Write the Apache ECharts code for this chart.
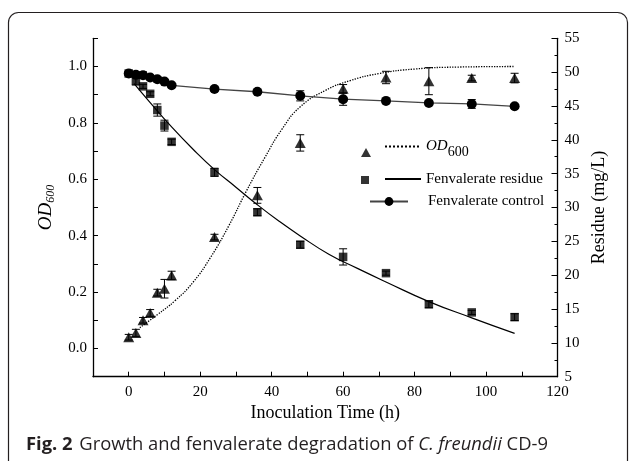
<!DOCTYPE html>
<html>
<head>
<meta charset="utf-8">
<script src="https://cdn.jsdelivr.net/npm/echarts@6/dist/echarts.min.js"></script>
<style>
html,body{margin:0;padding:0;background:#fff;}
#chart{width:629px;height:461px;}
</style>
</head>
<body>
<div id="chart"></div>
<script>
// ---- data ----
const times = [0, 2, 4, 6, 8, 10, 12, 24, 36, 48, 60, 72, 84, 96, 108];
const od600 = [0.040, 0.055, 0.100, 0.126, 0.198, 0.212, 0.259, 0.395, 0.543, 0.729, 0.921, 0.961, 0.948, 0.959, 0.959];
const od600Err = [0.010, 0.013, 0.010, 0.012, 0.012, 0.033, 0.015, 0.010, 0.028, 0.029, 0.015, 0.022, 0.048, 0.010, 0.017];
const residue = [49.8, 48.7, 47.9, 46.8, 44.4, 42.1, 39.7, 35.2, 29.3, 24.5, 22.7, 20.3, 15.7, 14.5, 13.8];
const residueErr = [0.2, 0.6, 0.3, 0.3, 0.9, 0.8, 0.4, 0.6, 0.5, 0.5, 1.2, 0.3, 0.5, 0.3, 0.5];
const control = [49.8, 49.6, 49.55, 49.2, 48.95, 48.6, 48.05, 47.5, 47.1, 46.5, 46.0, 45.75, 45.45, 45.3, 44.95];
const controlErr = [0.2, 0.3, 0.5, 0.3, 0.4, 0.2, 0.2, 0.3, 0.2, 0.75, 0.9, 0.2, 0.3, 0.65, 0.3];
// fitted curves
const odFitT = [3.1, 8, 13, 18, 23, 28, 33, 38, 43, 48, 55, 62, 70, 80, 92, 108];
const odFitV = [0.074, 0.120, 0.170, 0.235, 0.325, 0.435, 0.560, 0.675, 0.780, 0.857, 0.915, 0.950, 0.975, 0.991, 0.998, 1.000];
const resFitT = [1.5, 6, 12, 18, 24, 30, 36, 42, 48, 56, 64, 72, 84, 96, 108];
const resFitV = [48.3, 45.5, 41.9, 38.6, 35.6, 33.0, 30.4, 28.0, 25.8, 23.1, 21.0, 19.0, 16.1, 13.7, 11.4];
const xTicks = {min: -10, max: 120, step: 10};
const leftTicks = {min: -0.1, max: 1.1, step: 0.1};
const rightTicks = {min: 5, max: 55, step: 5};
const caption = {fig: 'Fig. 2', text: 'Growth and fenvalerate degradation of ', species: 'C. freundii', tail: ' CD-9'};

const SERIF = 'Liberation Serif';
const zip = (a, b) => a.map((v, i) => [v, b[i]]);

function errSeries(name, yIdx, xs, ys, es) {
  return {
    name: name, type: 'custom', yAxisIndex: yIdx, silent: true, z: 3,
    data: xs.map((x, i) => [x, ys[i] - es[i], ys[i] + es[i]]),
    encode: {x: 0, y: [1, 2]},
    renderItem: function (params, api) {
      const x = api.value(0);
      const lo = api.coord([x, api.value(1)]);
      const hi = api.coord([x, api.value(2)]);
      const w = 4;
      const st = {stroke: '#000', lineWidth: 1};
      return {type: 'group', children: [
        {type: 'line', shape: {x1: lo[0], y1: lo[1], x2: hi[0], y2: hi[1]}, style: st},
        {type: 'line', shape: {x1: lo[0] - w, y1: lo[1], x2: lo[0] + w, y2: lo[1]}, style: st},
        {type: 'line', shape: {x1: hi[0] - w, y1: hi[1], x2: hi[0] + w, y2: hi[1]}, style: st}
      ]};
    }
  };
}

const chart = echarts.init(document.getElementById('chart'), null, {renderer: 'canvas'});
const axisCommon = {
  axisLine: {show: true, onZero: false, lineStyle: {color: '#000', width: 1.3}},
  axisTick: {show: true, inside: true, length: 5, lineStyle: {color: '#000', width: 1}},
  splitLine: {show: false},
  nameTextStyle: {fontFamily: SERIF, fontSize: 18, color: '#000'}
};
const baseLegend = {selectedMode: false, orient: 'vertical', padding: 0, itemGap: 0,
  textStyle: {fontFamily: SERIF, fontSize: 15, color: '#000'}};

chart.setOption({
  animation: false,
  backgroundColor: '#fff',
  grid: {left: 93, right: 71.5, top: 38.3, bottom: 84.3, containLabel: false},
  xAxis: Object.assign({}, axisCommon, {
    type: 'value', min: xTicks.min, max: xTicks.max, interval: xTicks.step,
    name: 'Inoculation Time (h)', nameLocation: 'middle', nameGap: 26,
    axisLabel: {fontFamily: SERIF, fontSize: 15, color: '#000', margin: 8,
      formatter: v => (v >= 0 && Math.round(v) % 20 === 0) ? String(Math.round(v)) : ''}
  }),
  yAxis: [
    Object.assign({}, axisCommon, {
      type: 'value', position: 'left', min: leftTicks.min, max: leftTicks.max, interval: leftTicks.step,
      name: '{i|OD}{s|600}', nameLocation: 'middle', nameGap: 36, nameRotate: 90,
      nameTextStyle: {fontFamily: SERIF, fontSize: 18, color: '#000',
        rich: {i: {fontFamily: SERIF, fontSize: 19, fontStyle: 'italic', color: '#000'},
               s: {fontFamily: SERIF, fontSize: 12, fontStyle: 'italic', color: '#000', padding: [10, 0, 0, 0]}}},
      axisLabel: {fontFamily: SERIF, fontSize: 15, color: '#000', margin: 6,
        formatter: v => (Math.round(v * 10) % 2 === 0) ? (Math.round(v * 10) / 10).toFixed(1) : ''}
    }),
    Object.assign({}, axisCommon, {
      type: 'value', position: 'right', min: rightTicks.min, max: rightTicks.max, interval: rightTicks.step,
      name: 'Residue (mg/L)', nameLocation: 'middle', nameGap: 31, nameRotate: 90,
      axisTick: {show: true, inside: true, length: 6, lineStyle: {color: '#000', width: 1}},
      minorTick: {show: true, splitNumber: 2, length: 3, lineStyle: {color: '#000', width: 1}},
      axisLabel: {fontFamily: SERIF, fontSize: 15, color: '#000', margin: 7}
    })
  ],
  legend: [
    Object.assign({}, baseLegend, {data: [{name: 'OD600 data', icon: 'triangle'}], left: 361, top: 148,
      itemWidth: 10, itemHeight: 9, formatter: () => '', textStyle: {fontSize: 1}}),
    Object.assign({}, baseLegend, {data: [{name: 'Residue data', icon: 'rect'}], left: 361, top: 176,
      itemWidth: 8, itemHeight: 8, formatter: () => '', textStyle: {fontSize: 1}}),
    Object.assign({}, baseLegend, {data: ['OD600 fit'], left: 384, top: 139, itemWidth: 36, itemHeight: 10,
      itemStyle: {opacity: 0},
      formatter: () => '{i|OD}{s|600}',
      textStyle: {fontFamily: SERIF, fontSize: 15, color: '#000',
        rich: {i: {fontFamily: SERIF, fontSize: 15, fontStyle: 'italic', color: '#000'},
               s: {fontFamily: SERIF, fontSize: 14, color: '#000', padding: [11, 0, 0, 0]}}}}),
    Object.assign({}, baseLegend, {data: ['Fenvalerate residue'], left: 384, top: 171.5, itemWidth: 36, itemHeight: 10,
      itemStyle: {opacity: 0}}),
    Object.assign({}, baseLegend, {data: ['Fenvalerate control'], left: 369, top: 194, itemWidth: 38, itemHeight: 11,
      textStyle: {fontFamily: SERIF, fontSize: 15, color: '#000', padding: [0, 0, 0, 15]}})
  ],
  graphic: [
    {type: 'rect', silent: true, z: -10, shape: {x: 8.5, y: 12.5, width: 619, height: 520, r: 10},
      style: {fill: 'none', stroke: '#231f20', lineWidth: 1.2}},
    {type: 'text', silent: true, x: 26, y: 445,
      style: {text: '{b|' + caption.fig + '}  {n|' + caption.text + '}{i|' + caption.species + '}{n|' + caption.tail + '}',
        verticalAlign: 'middle', align: 'left',
        rich: {
          b: {fontFamily: 'Open Sans', fontWeight: 'bold', fontSize: 18.4, fill: '#231f20'},
          n: {fontFamily: 'Open Sans', fontSize: 18.4, fill: '#231f20'},
          i: {fontFamily: 'Open Sans', fontStyle: 'italic', fontSize: 18.4, fill: '#231f20'}
        }}}
  ],
  series: [
    {name: 'OD600 fit', type: 'line', yAxisIndex: 0, data: zip(odFitT, odFitV), smooth: 0.5, symbol: 'none',
      lineStyle: {type: 'dotted', width: 1.3, color: '#000'}, itemStyle: {color: '#000'}, z: 2, silent: true},
    {name: 'Fenvalerate residue', type: 'line', yAxisIndex: 1, data: zip(resFitT, resFitV), smooth: 0.5, symbol: 'none',
      lineStyle: {type: 'solid', width: 1.2, color: '#000'}, itemStyle: {color: '#000'}, z: 2, silent: true},
    {name: 'Fenvalerate control', type: 'line', yAxisIndex: 1, data: zip(times, control), symbol: 'circle', symbolSize: 10,
      lineStyle: {width: 1.3, color: '#444'}, itemStyle: {color: '#000'}, z: 4, silent: true},
    {name: 'OD600 data', type: 'scatter', yAxisIndex: 0, data: zip(times, od600), symbol: 'triangle', symbolSize: [11, 10],
      itemStyle: {color: '#000'}, z: 5, silent: true},
    {name: 'Residue data', type: 'scatter', yAxisIndex: 1, data: zip(times, residue), symbol: 'rect', symbolSize: 8.5,
      itemStyle: {color: '#000'}, z: 5, silent: true},
    errSeries('OD600 err', 0, times, od600, od600Err),
    errSeries('Residue err', 1, times, residue, residueErr),
    errSeries('Control err', 1, times, control, controlErr)
  ]
});
</script>
</body>
</html>
